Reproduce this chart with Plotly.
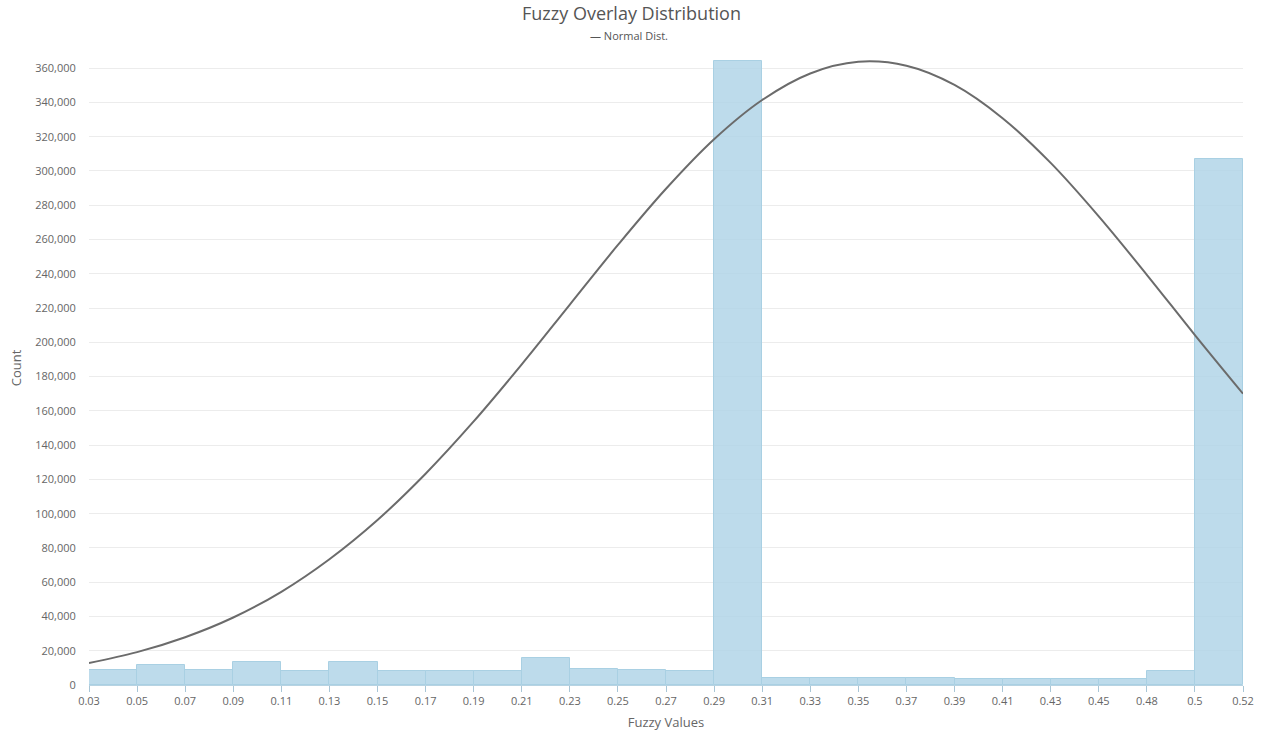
import plotly.graph_objects as go

# Histogram bin edge labels (25 edges -> 24 bins)
edge_labels = ["0.03", "0.05", "0.07", "0.09", "0.11", "0.13", "0.15", "0.17",
               "0.19", "0.21", "0.23", "0.25", "0.27", "0.29", "0.31", "0.33",
               "0.35", "0.37", "0.39", "0.41", "0.43", "0.45", "0.48", "0.5", "0.52"]

# Pixel counts per bin
bin_counts = [8500, 11600, 8900, 13200, 8200, 13400, 8100, 8100, 8100, 15700,
              9100, 8900, 8100, 364000, 4300, 4200, 4200, 4100, 3700, 3700,
              3700, 3700, 8400, 306900]

# Fitted normal distribution, sampled at each bin edge
normal_curve = [12900, 19200, 27900, 39400, 54400, 73400, 96300, 123300,
                153800, 187100, 222000, 256800, 289600, 318500, 341400, 356900,
                363700, 361400, 350200, 330800, 304700, 273500, 239400, 204200,
                170000]

edge_pos = list(range(len(edge_labels)))
bin_pos = [i + 0.5 for i in range(len(bin_counts))]

FONT = "Open Sans, Noto Sans, DejaVu Sans, sans-serif"

fig = go.Figure()
fig.add_trace(go.Bar(
    x=bin_pos, y=bin_counts, width=1,
    marker=dict(color="rgba(178,213,232,0.85)",
                line=dict(color="#a9d0e3", width=1)),
    name="Count", showlegend=False,
))
fig.add_trace(go.Scatter(
    x=edge_pos, y=normal_curve, mode="lines",
    line=dict(color="#6b6b6b", width=2, shape="spline", smoothing=1.0),
    name="Normal Dist.", showlegend=False,
))

fig.update_layout(
    width=1263, height=731,
    margin=dict(l=89, r=20, t=51, b=46),
    paper_bgcolor="white", plot_bgcolor="white",
    font=dict(family=FONT, color="#666666", size=11),
    bargap=0,
    title=dict(text="Fuzzy Overlay Distribution", x=0.5, xanchor="center",
               y=1 - 14 / 731, yanchor="middle", yref="container",
               font=dict(size=18, color="#555555", family=FONT)),
    showlegend=False,
)

fig.add_annotation(
    text="— Normal Dist.", xref="paper", yref="paper",
    x=(629 - 89) / 1154, y=1 + (51 - 36) / 634,
    xanchor="center", yanchor="middle", showarrow=False,
    font=dict(size=11, color="#555555", family=FONT),
)

fig.update_xaxes(
    range=[0, 24], tickvals=edge_pos, ticktext=edge_labels,
    showgrid=False, zeroline=False,
    showline=True, linecolor="#b7d3e2", linewidth=1,
    ticks="outside", ticklen=6, tickcolor="#a9c6d6", tickwidth=1,
    tickfont=dict(size=11, color="#666666"),
    title=dict(text="Fuzzy Values", standoff=10,
               font=dict(size=13, color="#666666")),
    automargin=False,
)
fig.update_yaxes(
    range=[0, 370000], dtick=20000, tickformat=",d",
    showgrid=True, gridcolor="#ececec", gridwidth=1,
    zeroline=False, showline=False,
    ticks="outside", ticklen=10, tickcolor="rgba(0,0,0,0)",
    tickfont=dict(size=11, color="#666666"),
    title=dict(text="Count", standoff=10,
               font=dict(size=13, color="#666666")),
    automargin=False,
)

fig.write_html("out.html")
